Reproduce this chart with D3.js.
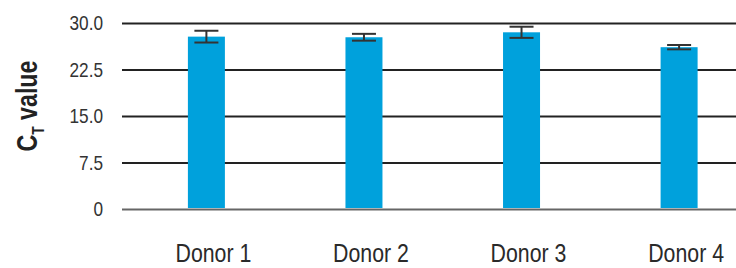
<!DOCTYPE html>
<html>
<head>
<meta charset="utf-8">
<script src="https://cdn.jsdelivr.net/npm/d3@7"></script>
<style>
  body { margin: 0; background: #fff; }
  svg { display: block; font-family: "Liberation Sans", sans-serif; }
</style>
</head>
<body>
<svg id="chart" width="736" height="268"></svg>
<script>
// values
const donors = ["Donor 1", "Donor 2", "Donor 3", "Donor 4"];
const ctValues = [27.8, 27.7, 28.5, 26.1];
const ctErrors = [0.95, 0.55, 0.9, 0.35];
const yTicks = [0, 7.5, 15, 22.5, 30];

const width = 736;
const height = 268;
const margin = { top: 23, right: 0, bottom: 59, left: 122 };
const squeeze = 0.82; // the reference uses a condensed face

const svg = d3.select("#chart");

const yScale = d3.scaleLinear()
    .domain([0, 30])
    .range([height - margin.bottom, margin.top]);

const xScale = d3.scalePoint()
    .domain(donors)
    .range([206.4, 679.1]);

const barWidth = 37;

/* gridlines and tick labels come from the axis itself */
const yAxis = svg.append("g")
    .attr("transform", `translate(${margin.left},0)`)
    .call(d3.axisLeft(yScale)
        .tickValues(yTicks)
        .tickSize(-(width - margin.left))
        .tickPadding(19)
        .tickFormat(d => d === 0 ? "0" : d3.format(".1f")(d)));

yAxis.select(".domain").remove();
yAxis.selectAll(".tick line")
    .attr("stroke", d => d === 0 ? "#666" : "#222")
    .attr("stroke-width", 2);
yAxis.selectAll(".tick text")
    .attr("x", 0)
    .attr("transform", `translate(-19,0) scale(${squeeze},1)`)
    .attr("fill", "#333")
    .style("font-size", "21px");

const data = donors.map((d, i) => ({ name: d, value: ctValues[i], err: ctErrors[i] }));

svg.selectAll(".bar")
    .data(data)
    .enter().append("rect")
    .attr("class", "bar")
    .attr("x", d => xScale(d.name) - barWidth / 2)
    .attr("y", d => yScale(d.value))
    .attr("width", barWidth)
    .attr("height", d => yScale(0) - yScale(d.value) - 1)
    .style("fill", "#00a1dc");

// error bars
const errG = svg.selectAll(".err")
    .data(data)
    .enter().append("g")
    .attr("class", "err")
    .attr("stroke", "#333")
    .attr("stroke-width", 2);

errG.append("line")
    .attr("x1", d => xScale(d.name))
    .attr("x2", d => xScale(d.name))
    .attr("y1", d => yScale(d.value + d.err))
    .attr("y2", d => yScale(d.value - d.err));

errG.append("line")
    .attr("x1", d => xScale(d.name) - 12)
    .attr("x2", d => xScale(d.name) + 12)
    .attr("y1", d => yScale(d.value + d.err))
    .attr("y2", d => yScale(d.value + d.err));

errG.append("line")
    .attr("x1", d => xScale(d.name) - 12)
    .attr("x2", d => xScale(d.name) + 12)
    .attr("y1", d => yScale(d.value - d.err))
    .attr("y2", d => yScale(d.value - d.err));

// category labels
svg.selectAll(".xlabel")
    .data(donors)
    .enter().append("text")
    .attr("class", "xlabel")
    .attr("transform", d => `translate(${xScale(d) + 7},262) scale(${squeeze},1)`)
    .attr("text-anchor", "middle")
    .style("font-size", "26px")
    .style("fill", "#2a2a2a")
    .text(d => d);

// y axis title with subscript
const title = svg.append("text")
    .attr("transform", `translate(37,106) rotate(-90) scale(0.8,1)`)
    .attr("text-anchor", "middle")
    .style("font-size", "29px")
    .style("font-weight", "bold")
    .style("fill", "#222");
title.append("tspan").text("C");
title.append("tspan")
    .attr("dy", 7)
    .style("font-size", "17px")
    .text("T");
title.append("tspan")
    .attr("dy", -7)
    .text(" value");
</script>
</body>
</html>
